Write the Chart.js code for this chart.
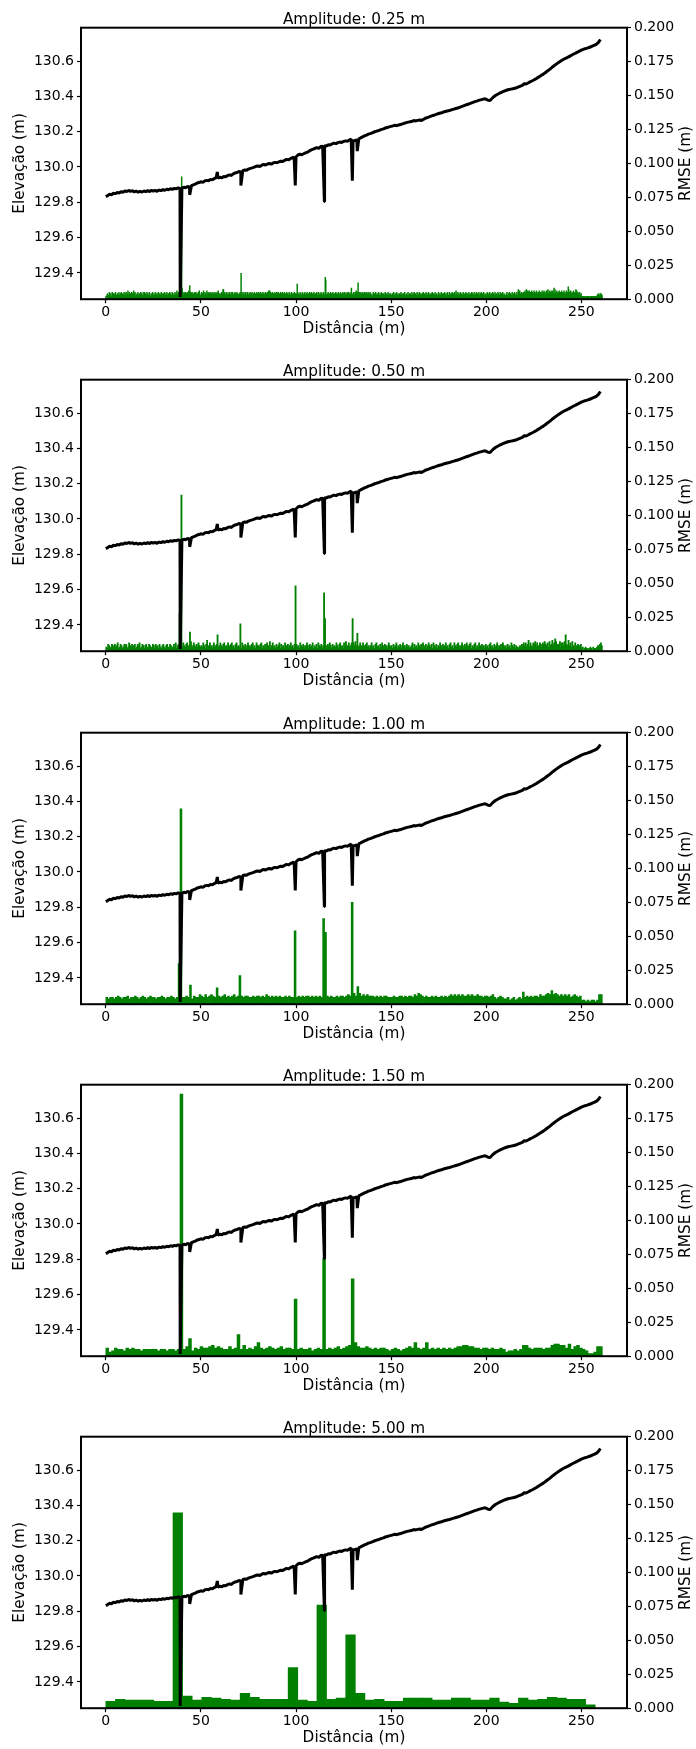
<!DOCTYPE html>
<html>
<head>
<meta charset="utf-8">
<title>Perfil de elevação e RMSE</title>
<script src="https://cdn.jsdelivr.net/npm/chart.js@4.4.1/dist/chart.umd.min.js"></script>
<style>
body { margin: 0; background: #fff; width: 696px; height: 1749px; overflow: hidden; position: relative; }
canvas { position: absolute; left: 0; }
</style>
</head>
<body>
<canvas id="c0" width="696" height="352" style="top:0px"></canvas>
<canvas id="c1" width="696" height="352" style="top:352px"></canvas>
<canvas id="c2" width="696" height="352" style="top:705px"></canvas>
<canvas id="c3" width="696" height="352" style="top:1057px"></canvas>
<canvas id="c4" width="696" height="352" style="top:1409px"></canvas>
<script>
// elevation profile, one value per metre (0..260 m)
var elevation = [
  129.832,129.838,129.845,129.843,129.851,129.849,129.856,129.853,129.860,129.857,
  129.864,129.861,129.867,129.862,129.866,129.859,129.864,129.857,129.862,129.858,
  129.864,129.860,129.866,129.861,129.868,129.863,129.867,129.862,129.869,129.866,
  129.872,129.868,129.874,129.871,129.877,129.873,129.879,129.876,129.882,129.878,
  129.880,129.885,129.882,129.889,129.887,129.894,129.899,129.903,129.909,129.912,
  129.916,129.913,129.921,129.924,129.922,129.930,129.927,129.935,129.938,129.936,
  129.942,129.939,129.946,129.944,129.951,129.955,129.952,129.961,129.966,129.969,
  129.974,129.972,129.979,129.983,129.981,129.988,129.992,129.995,129.999,130.004,
  130.006,130.003,130.010,130.014,130.011,130.017,130.020,130.016,130.023,130.026,
  130.024,130.029,130.033,130.031,130.038,130.043,130.040,130.047,130.052,130.055,
  130.058,130.068,130.072,130.069,130.075,130.080,130.084,130.091,130.097,130.101,
  130.106,130.110,130.105,130.116,130.118,130.121,130.119,130.126,130.124,130.131,
  130.135,130.132,130.138,130.141,130.139,130.145,130.148,130.146,130.152,130.158,
  130.148,130.150,130.154,130.160,130.165,130.171,130.176,130.180,130.186,130.189,
  130.193,130.198,130.202,130.205,130.209,130.213,130.216,130.221,130.224,130.227,
  130.230,130.233,130.236,130.234,130.238,130.241,130.244,130.248,130.251,130.254,
  130.256,130.259,130.263,130.261,130.264,130.266,130.263,130.270,130.276,130.280,
  130.284,130.288,130.292,130.295,130.299,130.303,130.306,130.309,130.313,130.316,
  130.318,130.321,130.325,130.328,130.331,130.334,130.338,130.342,130.346,130.350,
  130.354,130.358,130.362,130.366,130.370,130.373,130.377,130.380,130.383,130.386,
  130.384,130.378,130.377,130.388,130.398,130.406,130.412,130.418,130.423,130.428,
  130.432,130.436,130.439,130.441,130.443,130.446,130.449,130.454,130.458,130.462,
  130.472,130.470,130.476,130.482,130.487,130.493,130.499,130.506,130.512,130.519,
  130.526,130.534,130.542,130.550,130.559,130.568,130.576,130.584,130.592,130.599,
  130.606,130.612,130.617,130.622,130.628,130.634,130.640,130.645,130.651,130.656,
  130.662,130.666,130.670,130.673,130.677,130.681,130.686,130.690,130.696,130.706,130.722
];
// narrow dips / bumps of the profile
var spikeX = [39.1, 44.1, 58.6, 71.0, 99.6, 114.9, 129.6, 132.2];
var spikeY = [129.264, 129.842, 129.972, 129.895, 129.895, 129.805, 129.922, 130.090];

// RMSE per window, in mm (thousandths of a metre)
var rmse025 = [
  2,1,3,4,2,1,3,5,2,3,4,1,2,5,3,2,4,3,1,4,5,2,3,1,4,2,3,5,1,3,4,2,5,1,3,4,2,3,5,2,
  4,2,5,3,1,4,6,2,3,5,1,4,2,3,5,4,1,3,6,2,4,5,2,1,3,4,2,5,3,1,4,2,3,5,4,2,1,3,5,2,
  3,5,1,4,2,3,5,2,4,1,3,5,4,2,1,3,4,2,5,3,1,4,3,2,5,4,1,3,2,4,5,3,1,4,2,3,5,2,4,1,
  3,4,2,5,1,3,4,2,5,3,1,4,2,3,5,4,1,3,2,5,4,3,1,4,2,5,3,2,4,6,2,3,5,1,4,3,2,5,3,2,
  4,5,2,3,5,4,2,5,3,4,2,5,3,4,6,2,4,3,5,2,4,5,3,2,4,3,5,2,4,5,3,2,4,3,5,2,6,4,3,2,
  3,5,4,2,4,6,3,2,5,4,3,2,6,3,4,5,2,3,4,5,2,4,3,5,2,4,3,5,4,2,3,5,4,2,3,5,6,3,2,4,
  3,2,4,5,2,4,3,7,2,4,5,3,2,4,5,3,2,4,3,5,4,2,3,5,2,4,5,3,2,4,3,5,2,4,3,5,2,4,3,2,
  4,3,5,2,4,3,5,2,3,4,5,2,3,4,5,3,2,4,5,3,2,4,3,5,2,3,4,5,2,3,4,2,5,3,4,2,3,5,2,4,
  3,5,2,4,3,5,2,4,3,2,5,4,3,2,4,5,3,2,4,5,3,2,6,4,3,2,5,3,4,2,5,3,4,2,3,5,4,2,3,5,
  2,4,5,3,2,4,3,5,2,4,3,5,2,3,4,5,2,3,4,2,5,3,4,2,3,5,2,4,3,2,5,4,3,2,4,3,5,2,4,3,
  4,2,3,5,2,4,3,2,5,3,4,2,3,5,4,2,3,4,5,2,3,4,2,5,3,4,2,3,5,2,4,3,5,2,4,3,2,5,3,4,
  3,4,2,5,3,2,4,5,3,2,4,3,5,2,4,3,2,5,4,3,2,4,5,3,2,4,3,5,2,3,4,2,5,3,4,2,3,5,4,2,
  2,4,3,5,2,4,3,2,5,4,3,2,4,5,3,2,4,3,5,2,4,3,5,2,4,3,2,5,4,3,5,2,4,3,2,5,3,4,2,3,
  4,5,3,2,5,4,6,3,2,5,4,3,2,5,4,3,5,2,4,3,5,4,2,3,5,4,2,5,3,4,2,5,3,4,2,5,3,4,2,3,
  2,3,5,2,4,3,2,5,3,1,4,3,2,5,3,1,4,2,3,5,2,4,3,1,4,3,2,5,2,3,4,1,3,5,2,4,3,2,4,3,
  3,2,4,1,3,5,2,3,4,1,2,5,3,2,4,3,1,4,2,3,5,2,4,1,3,4,2,3,5,1,3,2,4,3,2,5,1,3,4,2,
  4,3,2,5,3,1,4,2,5,3,2,4,1,3,5,2,4,3,1,5,3,2,4,3,1,4,2,5,3,2,4,1,3,5,2,4,3,2,5,3,
  2,4,3,1,4,2,5,3,2,4,1,3,5,2,3,4,1,3,2,5,3,1,4,2,3,5,2,4,1,3,4,2,5,3,1,4,2,3,5,2,
  3,2,5,4,1,3,4,2,5,3,2,4,1,5,3,2,6,4,1,3,5,2,4,3,1,5,3,2,4,3,1,5,2,4,3,1,4,5,2,3,
  4,3,2,5,3,1,4,2,3,5,2,4,1,3,5,2,4,3,1,5,2,4,3,2,5,1,3,4,2,5,3,1,4,2,5,3,2,4,1,3,
  2,4,5,3,1,4,2,5,3,2,4,1,3,5,2,4,3,1,5,3,2,4,3,1,5,2,4,3,2,5,3,1,4,2,5,3,2,4,3,1,
  3,2,4,5,2,3,1,4,5,3,2,4,3,1,5,2,4,3,2,5,1,3,4,2,5,3,1,4,2,5,6,3,4,2,5,3,4,2,5,4,
  5,6,3,4,2,5,4,6,3,5,6,4,2,5,3,6,4,5,2,4,6,3,5,4,2,6,5,3,4,5,2,6,4,3,5,2,4,6,3,5,
  4,6,3,5,2,4,6,3,5,7,3,4,6,2,5,4,6,3,5,6,2,4,5,3,7,4,5,3,6,4,2,5,3,6,4,3,5,4,6,3,
  5,3,4,6,3,5,2,4,6,3,5,4,3,7,4,5,3,6,4,3,5,2,4,6,3,4,5,3,2,4,6,3,5,2,4,3,5,2,3,4,
  2,1,2,1,2,2,1,2,1,1,2,2,1,2,1,2,1,1,2,2,1,2,1,2,1,1,2,2,1,2,2,1,2,3,2,4,3,2,3,4,
  3,4,2,3
];
var peaks025 = [[155,16],[159,90],[160,8],[176,10],[246,7],[284,19],[344,6],[402,11],[461,16],[462,14],
  [516,8],[530,12],[867,7],[884,7],[942,8],[972,9],[988,7]];

var rmse050 = [
  3,2,5,4,2,3,5,4,2,5,3,4,6,2,3,5,4,2,3,5,
  4,5,2,3,6,4,2,5,3,4,5,2,3,5,4,6,2,3,5,4,
  2,4,5,3,2,5,4,3,2,5,4,2,5,3,4,2,5,3,2,4,
  5,3,2,4,5,3,2,5,4,3,2,5,3,6,2,4,5,3,4,5,
  3,6,4,3,5,6,3,4,2,7,4,3,6,4,3,5,3,6,4,3,
  4,3,6,4,2,5,7,3,4,6,3,4,2,6,4,3,5,7,3,4,
  6,4,3,5,6,3,4,2,6,4,3,5,6,3,4,2,5,6,3,4,
  3,5,2,6,4,3,5,2,4,6,3,4,2,5,6,3,4,2,6,4,
  4,3,5,6,2,4,3,5,2,6,4,3,5,2,4,6,3,4,2,5,
  3,4,6,2,5,3,4,2,6,4,3,5,2,4,6,3,4,2,5,3,
  5,3,4,2,6,4,3,5,2,4,3,6,4,2,5,3,4,6,2,4,
  3,5,2,6,4,3,5,2,4,6,3,4,2,5,3,6,4,2,5,3,
  4,3,6,4,2,5,6,3,4,2,6,4,7,3,4,6,3,4,6,3,
  6,4,7,4,5,3,4,6,4,3,6,4,3,5,6,3,4,2,4,6,
  3,4,2,5,6,3,4,2,5,3,6,4,2,5,3,4,2,6,4,3,
  4,2,5,3,4,6,2,4,3,5,2,4,6,3,4,2,5,3,4,2,
  3,4,6,2,5,3,4,2,6,4,3,5,2,6,4,3,5,2,4,6,
  4,3,5,2,6,4,3,5,2,4,3,6,4,2,5,3,4,6,3,4,
  2,5,6,3,4,2,6,4,3,5,6,2,4,3,6,4,2,5,3,6,
  4,3,5,6,2,4,3,5,6,2,4,3,6,4,2,5,3,4,2,5,
  3,4,2,5,6,3,4,2,5,3,4,6,2,4,3,5,2,6,4,3,
  4,2,5,3,4,2,6,4,3,5,2,4,3,2,3,4,2,5,3,6,
  4,6,3,5,7,3,6,4,3,6,5,7,3,6,4,3,6,5,3,6,
  5,7,5,4,6,3,7,4,5,8,4,6,3,7,4,5,4,7,3,6,
  6,4,7,3,5,4,8,4,6,3,7,4,3,6,4,3,5,4,3,5,
  2,3,1,2,3,2,2,1,2,3,2,1,3,2,2,1,3,4,3,5,
  6,4
];
var peaks050 = [[77,28],[79,115],[88,14],[106,8],[117,12],[141,20],[172,7],[199,48],[229,43],[230,24],
  [259,24],[264,13],[444,8],[472,9],[483,12]];

var rmse100 = [
  5,4,5,5,4,5,6,5,4,5, 5,6,4,5,5,6,5,4,5,6, 5,4,5,6,5,5,4,5,5,6, 5,4,5,5,6,5,4,5,5,4,
  5,5,6,5,5,4,6,5,5,7, 6,5,7,5,6,7,6,5,6,6, 5,6,7,5,6,5,6,7,5,6, 5,6,5,6,6,5,5,6,5,6,
  6,5,6,5,7,6,5,6,5,6, 5,6,5,5,6,5,6,5,5,6, 5,6,5,6,5,6,6,5,6,5, 6,5,6,5,6,5,6,5,6,5,
  5,6,5,6,6,5,6,7,6,7, 8,6,7,8,6,7,6,7,6,6, 6,5,6,5,6,5,6,6,5,5, 5,6,5,5,6,6,5,6,5,6,
  6,5,7,6,8,7,6,5,6,5, 5,6,5,6,5,5,6,5,6,5, 6,7,6,7,6,7,6,7,6,6, 7,6,7,6,6,7,6,6,5,6,
  6,5,6,7,5,4,5,6,5,4, 4,5,3,4,5,3,4,5,4,6, 5,6,5,6,5,6,6,5,7,6, 6,7,8,7,6,7,8,7,6,7,
  6,7,6,7,5,6,7,6,5,6, 3,3,2,3,2,3,3,2,3,7, 7
];
var peaks100 = [[38,30],[39,144],[44,14],[58,12],[70,21],[99,54],[114,63],[115,53],[129,75],[132,13],
  [219,9],[234,10]];

var rmse150 = [
  6,3,4,6,5,5,4,6,5,6, 5,5,4,5,5,5,5,5,4,5, 5,4,5,5,4,5,193,5,7,13, 4,6,5,7,6,6,7,8,6,7,
  6,5,5,7,5,6,16,5,8,5, 6,5,7,10,6,5,6,7,6,5, 6,7,5,6,6,5,42,5,6,5, 5,6,4,5,6,5,72,5,6,5,
  6,7,5,6,7,8,57,10,7,6, 6,7,6,5,6,5,6,6,5,4, 5,6,5,4,5,6,7,6,10,6, 5,6,10,5,6,5,6,5,6,5,
  6,5,6,7,7,8,8,7,7,6, 6,5,6,6,5,6,5,5,6,5, 3,4,4,5,4,5,8,8,6,5, 6,6,6,5,6,6,8,9,9,8,
  8,6,9,5,7,8,6,5,4,2, 2,3,7,7
];
var rmse500 = [5,6.5,6,6,6,5,5,144,9,6,8,7.5,6.5,6,11,8,6.5,6.5,6.5,30,6,5,76,6.5,7.5,54,11,6,6.5,5,5,
  7.5,7.5,7.5,6,6,7.5,7.5,6,6,7.5,4.5,3.5,7.5,6,6.5,8,7.5,6.5,6.5,2.5];

var panelTitles = ['Amplitude: 0.25 m', 'Amplitude: 0.50 m', 'Amplitude: 1.00 m', 'Amplitude: 1.50 m', 'Amplitude: 5.00 m'];
var panelRmse = [rmse025, rmse050, rmse100, rmse150, rmse500];
var panelPeaks = [peaks025, peaks050, peaks100, [], []];
var binWidth = [0.25, 0.5, 1, 1.5, 5.045];
var barInflate = [0.5, 0.45, 0.33, 0.33, 0.33];

var distTicks = [0, 50, 100, 150, 200, 250];
var elevTicks = [129.4, 129.6, 129.8, 130.0, 130.2, 130.4, 130.6];
var rmseTicks = [0, 0.025, 0.05, 0.075, 0.1, 0.125, 0.15, 0.175, 0.2];

Chart.defaults.font.family = "'DejaVu Sans'";
Chart.defaults.font.size = 14;
Chart.defaults.color = '#000';

function linePoints() {
    var pts = [];
    for (var i = 0; i < elevation.length; i++) pts.push({x: i, y: elevation[i]});
    for (var k = 0; k < spikeX.length; k++) pts.push({x: spikeX[k], y: spikeY[k]});
    pts.sort(function (a, b) { return a.x - b.x; });
    return pts;
}

function barPoints(vals, peaks, w) {
    var v = vals.slice();
    peaks.forEach(function (p) { v[p[0]] = p[1]; });
    return v.map(function (val, i) { return {x: (i + 0.5) * w, y: val / 1000}; });
}

var frameText = {
    id: 'frameText',
    afterDraw: function (chart, args, opts) {
        var ctx = chart.ctx, a = chart.chartArea;
        var cx = (a.left + a.right) / 2, cy = (a.top + a.bottom) / 2;
        ctx.save();
        ctx.strokeStyle = '#000';
        ctx.lineWidth = 2;
        ctx.strokeRect(a.left, a.top, a.right - a.left, a.bottom - a.top);
        ctx.fillStyle = '#000';
        ctx.font = "15.3px 'DejaVu Sans'";
        ctx.textAlign = 'center';
        ctx.textBaseline = 'alphabetic';
        ctx.fillText(opts.title, cx, a.top - 4);
        ctx.fillText('Distância (m)', cx, a.bottom + 34);
        ctx.textBaseline = 'middle';
        ctx.save();
        ctx.translate(20, cy);
        ctx.rotate(-Math.PI / 2);
        ctx.fillText('Elevação (m)', 0, 0);
        ctx.restore();
        ctx.translate(686, cy);
        ctx.rotate(-Math.PI / 2);
        ctx.fillText('RMSE (m)', 0, 0);
        ctx.restore();
    }
};

function tickGrid() {
    return {drawOnChartArea: false, drawTicks: true, tickLength: 4, tickColor: '#000', tickWidth: 1.2, offset: false};
}

function makePanel(idx) {
    new Chart(document.getElementById('c' + idx), {
        type: 'bar',
        data: {
            datasets: [
                {type: 'line', data: linePoints(), yAxisID: 'y', borderColor: '#000', borderWidth: 3,
                 pointRadius: 0, tension: 0, order: 0, borderJoinStyle: 'bevel'},
                {type: 'bar', data: barPoints(panelRmse[idx], panelPeaks[idx], binWidth[idx]), yAxisID: 'y1',
                 backgroundColor: '#008000', borderWidth: 0, barPercentage: 1, categoryPercentage: 1,
                 inflateAmount: barInflate[idx], order: 1}
            ]
        },
        options: {
            responsive: false,
            animation: false,
            devicePixelRatio: 1,
            layout: {padding: {top: 27.7, left: 0, right: 0, bottom: 0}},
            plugins: {legend: {display: false}, tooltip: {enabled: false}, frameText: {title: panelTitles[idx]}},
            scales: {
                x: {
                    type: 'linear', min: -13.05, max: 274.0, offset: false,
                    grid: tickGrid(), border: {display: false},
                    ticks: {padding: 1, maxRotation: 0, autoSkip: false, callback: function (v) { return String(v); }},
                    afterBuildTicks: function (s) { s.ticks = distTicks.map(function (v) { return {value: v}; }); },
                    afterFit: function (s) { s.height = 52.8; }
                },
                y: {
                    type: 'linear', position: 'left', min: 129.251, max: 130.789,
                    grid: tickGrid(), border: {display: false},
                    ticks: {padding: 3, autoSkip: false, callback: function (v) { return v.toFixed(1); }},
                    afterBuildTicks: function (s) { s.ticks = elevTicks.map(function (v) { return {value: v}; }); },
                    afterFit: function (s) { s.width = 81; }
                },
                y1: {
                    type: 'linear', position: 'right', min: 0, max: 0.2,
                    grid: tickGrid(), border: {display: false},
                    ticks: {padding: 3, autoSkip: false, callback: function (v) { return v.toFixed(3); }},
                    afterBuildTicks: function (s) { s.ticks = rmseTicks.map(function (v) { return {value: v}; }); },
                    afterFit: function (s) { s.width = 69; }
                }
            }
        },
        plugins: [frameText]
    });
}

for (var p = 0; p < 5; p++) makePanel(p);
</script>
</body>
</html>
